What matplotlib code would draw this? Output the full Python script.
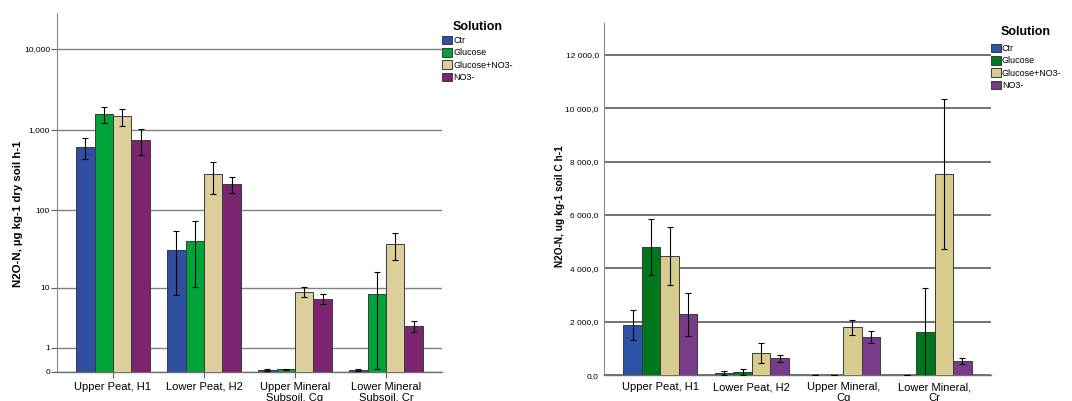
import numpy as np
import matplotlib
matplotlib.use("Agg")
import matplotlib.pyplot as plt
from matplotlib.patches import Patch

plt.rcParams['font.family'] = ['Liberation Sans', 'DejaVu Sans']

solutions = ["Ctr", "Glucose", "Glucose+NO3-", "NO3-"]
horizons_left = ["Upper Peat, H1", "Lower Peat, H2",
                 "Upper Mineral\nSubsoil, Cg", "Lower Mineral\nSubsoil, Cr"]
horizons_right = ["Upper Peat, H1", "Lower Peat, H2",
                  "Upper Mineral,\nCg", "Lower Mineral,\nCr"]

# N2O-N per dry soil (ug kg-1 h-1), rows = solutions, columns = horizons
dry_mean = {
    "Ctr":          [615, 31.4, 0.06, 0.06],
    "Glucose":      [1570, 41.3, 0.08, 8.2],
    "Glucose+NO3-": [1465, 280, 8.9, 37.5],
    "NO3-":         [745, 210, 7.1, 2.7],
}
dry_err = {
    "Ctr":          [185, 23.3, 0.02, 0.02],
    "Glucose":      [355, 31.0, 0.01, 8.1],
    "Glucose+NO3-": [355, 122, 1.5, 14.0],
    "NO3-":         [262, 47, 1.2, 0.53],
}

# N2O-N per soil C (ug kg-1 h-1)
carbon_mean = {
    "Ctr":          [1884, 86, 5, 5],
    "Glucose":      [4805, 124, 8, 1622],
    "Glucose+NO3-": [4468, 846, 1798, 7539],
    "NO3-":         [2284, 637, 1423, 547],
}
carbon_err = {
    "Ctr":          [545, 86, 2, 2],
    "Glucose":      [1060, 100, 3, 1630],
    "Glucose+NO3-": [1090, 375, 280, 2800],
    "NO3-":         [800, 135, 230, 106],
}

colors_left = ["#2f4fa3", "#00a33a", "#dccf9b", "#7b246f"]
colors_right = ["#2c53a5", "#00771c", "#d8cb8e", "#7a3b8b"]

W, H = 1072, 401
fig = plt.figure(figsize=(W / 100, H / 100), dpi=100)

ax1 = fig.add_axes([57 / W, 1 - 372 / H, 385 / W, 359 / H])
ax2 = fig.add_axes([604.3 / W, 1 - 375.3 / H, 386.4 / W, 352.6 / H])

x = np.arange(4)
bw = 0.2025
offsets = (np.arange(4) - 1.5) * bw


def draw_bars(ax, means, errs, colors, grid_color, grid_lw):
    for i, s in enumerate(solutions):
        ax.bar(x + offsets[i], means[s], width=bw, color=colors[i],
               edgecolor="#3a3a3a", linewidth=0.7, zorder=3)
        ax.errorbar(x + offsets[i], means[s], yerr=errs[s], fmt="none",
                    ecolor="black", elinewidth=0.8, capsize=2.5,
                    capthick=0.8, zorder=4)
    ax.set_xlim(-0.615, 3.615)
    for sp in ["top", "right"]:
        ax.spines[sp].set_visible(False)
    ax.spines["left"].set_color("#8a8a8a")
    ax.spines["bottom"].set_color("#707070")
    ax.spines["bottom"].set_linewidth(1.0)
    ax.grid(axis="y", color=grid_color, linewidth=grid_lw, zorder=0)
    ax.set_axisbelow(True)


# Left panel: log10(y + 1) axis
draw_bars(ax1, dry_mean, dry_err, colors_left, "#808080", 1.0)
ax1.set_yscale("function", functions=(lambda v: np.log10(np.clip(v, 0, None) + 1),
                                      lambda v: 10 ** v - 1))
ax1.set_ylim(0, 27900)
ax1.set_yticks([0, 1, 10, 100, 1000, 10000])
ax1.set_yticklabels(["0", "1", "10", "100", "1,000", "10,000"])
ax1.yaxis.set_minor_locator(matplotlib.ticker.NullLocator())
ax1.tick_params(axis="y", labelsize=6, length=4, color="#606060", pad=1)
ax1.set_xticks(x)
ax1.set_xticklabels(horizons_left, fontsize=8, linespacing=1.15)
ax1.tick_params(axis="x", length=4, color="#606060", pad=3)
ax1.set_ylabel("N2O-N, \u00b5g kg-1 dry soil h-1", fontsize=8.2,
               fontweight="bold")
ax1.yaxis.set_label_coords(-0.088, 0.44)

# Right panel: linear axis
draw_bars(ax2, carbon_mean, carbon_err, colors_right, "#5a5a5a", 1.2)
ax2.set_ylim(0, 13200)
yt = np.arange(0, 12001, 2000)
ax2.set_yticks(yt)
ax2.set_yticklabels([f"{v:,.1f}".replace(",", " ").replace(".", ",") for v in yt])
ax2.tick_params(axis="y", labelsize=6, length=0, pad=4)
ax2.set_xticks(x)
ax2.set_xticklabels(horizons_right, fontsize=8, linespacing=1.15)
ax2.tick_params(axis="x", length=0, pad=5)
ax2.set_ylabel("N2O-N, ug kg-1 soil C h-1", fontsize=7.3, fontweight="bold")
ax2.yaxis.set_label_coords(-0.103, 0.48)

handles_l = [Patch(facecolor=c, edgecolor="#3a3a3a", linewidth=0.7) for c in colors_left]
handles_r = [Patch(facecolor=c, edgecolor="#3a3a3a", linewidth=0.7) for c in colors_right]

for ax, hnd, anchor, sep in [(ax1, handles_l, (1.0, 0.978), 2),
                             (ax2, handles_r, (1.0, 0.99), 4)]:
    leg = ax.legend(hnd, solutions, loc="upper left", bbox_to_anchor=anchor,
                    frameon=False, fontsize=6.5, title="Solution",
                    title_fontproperties={"weight": "bold", "size": 9},
                    handlelength=1.1, handleheight=1.1, handletextpad=0.15,
                    labelspacing=0.32, borderpad=0, borderaxespad=0)
    leg._legend_box.sep = sep

fig.savefig("out.png", dpi=100)
